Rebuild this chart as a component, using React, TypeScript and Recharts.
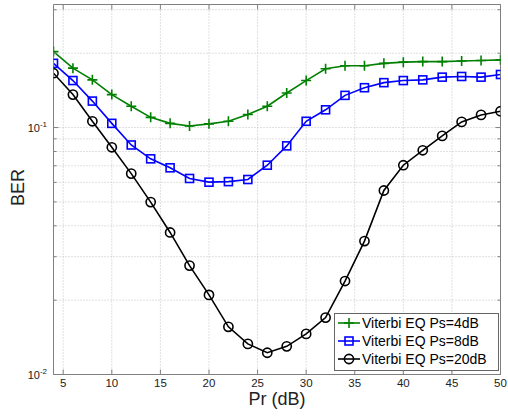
import React from 'react';
import { LineChart, Line, XAxis, YAxis, ReferenceLine, Legend } from 'recharts';

const prDb = [4, 6, 8, 10, 12, 14, 16, 18, 20, 22, 24, 26, 28, 30, 32, 34, 36, 38, 40, 42, 44, 46, 48, 50];
const berPs4 = [0.203, 0.174, 0.156, 0.136, 0.122, 0.110, 0.104, 0.1015, 0.1035, 0.106, 0.113, 0.122, 0.138, 0.155, 0.173, 0.178, 0.178, 0.182, 0.184, 0.185, 0.185, 0.186, 0.187, 0.188];
const berPs8 = [0.182, 0.155, 0.128, 0.104, 0.085, 0.0747, 0.0687, 0.0622, 0.0601, 0.0604, 0.0616, 0.0704, 0.0843, 0.106, 0.118, 0.135, 0.145, 0.152, 0.155, 0.156, 0.160, 0.161, 0.160, 0.164];
const berPs20 = [0.166, 0.136, 0.106, 0.0832, 0.0651, 0.0499, 0.0376, 0.0276, 0.0210, 0.0156, 0.0133, 0.01225, 0.0130, 0.0146, 0.0170, 0.0239, 0.0347, 0.0556, 0.0704, 0.0809, 0.0925, 0.1054, 0.1125, 0.1164];
const seriesNames = ['Viterbi EQ Ps=4dB', 'Viterbi EQ Ps=8dB', 'Viterbi EQ Ps=20dB'];
const xTicks = [5, 10, 15, 20, 25, 30, 35, 40, 45, 50];
const yTicks = [0.01, 0.02, 0.03, 0.04, 0.05, 0.06, 0.07, 0.08, 0.09, 0.1, 0.2, 0.3];
const xDomain = [4, 50];
const yDomain = [0.01, 0.315];

const data = prDb.map((pr, i) => ({ pr, s4: berPs4[i], s8: berPs8[i], s20: berPs20[i] }));

const FONT = '"Liberation Sans", Arial, Helvetica, sans-serif';
const AXIS_COLOR = '#808080';
const GRID_COLOR = '#c0c0c0';
const TEXT_COLOR = '#222';
const GREEN = '#008000';
const BLUE = '#0000ff';
const BLACK = '#000000';
const LW = 1.6;

const isMajor = (v: number) => Math.abs(Math.log10(v) - Math.round(Math.log10(v))) < 1e-6;

const PlusMark = ({ cx, cy, color }: any) => (
  <g>
    <line x1={cx - 5} y1={cy} x2={cx + 5} y2={cy} stroke={color} strokeWidth={LW} />
    <line x1={cx} y1={cy - 5} x2={cx} y2={cy + 5} stroke={color} strokeWidth={LW} />
  </g>
);
const SquareMark = ({ cx, cy, color }: any) => (
  <rect x={cx - 4} y={cy - 4} width={8} height={8} fill="none" stroke={color} strokeWidth={LW} />
);
const CircleMark = ({ cx, cy, color }: any) => (
  <circle cx={cx} cy={cy} r={4.6} fill="none" stroke={color} strokeWidth={LW} />
);

const markers = [PlusMark, SquareMark, CircleMark];
const colors = [GREEN, BLUE, BLACK];

const BottomTick = (props: any) => {
  const { x, y, payload } = props;
  return (
    <g>
      <line x1={x} y1={y} x2={x} y2={y - 5} stroke={AXIS_COLOR} strokeWidth={1} />
      <text x={x} y={y + 12.5} textAnchor="middle" fontSize={11.5} fontFamily={FONT} fill={TEXT_COLOR}>
        {payload.value}
      </text>
    </g>
  );
};
const TopTick = (props: any) => {
  const { x, y } = props;
  return <line x1={x} y1={y} x2={x} y2={y + 5} stroke={AXIS_COLOR} strokeWidth={1} />;
};
const LeftTick = (props: any) => {
  const { x, y, payload } = props;
  const v = payload.value;
  const major = isMajor(v);
  const len = major ? 5 : 3;
  return (
    <g>
      <line x1={x} y1={y} x2={x + len} y2={y} stroke={AXIS_COLOR} strokeWidth={1} />
      {major && (
        <text x={x - 6.5} y={y + 4.5} textAnchor="end" fontSize={11} fontFamily={FONT} fill={TEXT_COLOR}>
          <tspan>10</tspan>
          <tspan dy={-5} fontSize={8}>{String(Math.round(Math.log10(v)))}</tspan>
        </text>
      )}
    </g>
  );
};
const RightTick = (props: any) => {
  const { x, y, payload } = props;
  const len = isMajor(payload.value) ? 5 : 3;
  return <line x1={x} y1={y} x2={x - len} y2={y} stroke={AXIS_COLOR} strokeWidth={1} />;
};

const YLabel = (props: any) => {
  const vb = props.viewBox;
  const cx = vb.x + vb.width - 30;
  const cy = vb.y + vb.height / 2 - 2;
  return (
    <text x={cx} y={cy} transform={`rotate(-90, ${cx}, ${cy})`} textAnchor="middle" fontSize={18} fontFamily={FONT} fill={TEXT_COLOR}>
      BER
    </text>
  );
};
const XLabel = (props: any) => {
  const vb = props.viewBox;
  return (
    <text x={vb.x + vb.width / 2} y={vb.y + 30} textAnchor="middle" fontSize={18} fontFamily={FONT} fill={TEXT_COLOR}>
      Pr (dB)
    </text>
  );
};

const LegendBox = () => (
  <div
    style={{
      width: 165,
      height: 58,
      boxSizing: 'border-box',
      border: '1px solid #666',
      background: '#fff',
      fontFamily: FONT,
      fontSize: 14,
      color: '#000',
      paddingTop: 0,
    }}
  >
    {seriesNames.map((name, i) => {
      const Mark = markers[i];
      return (
        <div key={name} style={{ display: 'flex', alignItems: 'center', height: 18.4, lineHeight: '18.4px', whiteSpace: 'nowrap' }}>
          <svg width={27} height={14} style={{ display: 'block', flex: 'none' }}>
            <line x1={3} y1={7} x2={25} y2={7} stroke={colors[i]} strokeWidth={LW} />
            <Mark cx={14} cy={7} color={colors[i]} />
          </svg>
          <span>{name}</span>
        </div>
      );
    })}
  </div>
);

export default function App() {
  return (
    <div style={{ position: 'absolute', left: 0, top: 0, width: 508, height: 416, background: '#fff' }}>
      <LineChart width={508} height={416} data={data} margin={{ top: 3.5, left: 52.5, right: 6.5, bottom: 40.5 }}>
        {xTicks.map((t) => (
          <ReferenceLine key={`gx${t}`} x={t} stroke={GRID_COLOR} strokeDasharray="1 2" strokeWidth={1} />
        ))}
        {yTicks.map((t) => (
          <ReferenceLine key={`gy${t}`} y={t} stroke={GRID_COLOR} strokeDasharray="1 2" strokeWidth={1} />
        ))}
        <XAxis
          dataKey="pr"
          type="number"
          domain={xDomain}
          ticks={xTicks}
          interval={0}
          height={1}
          tickSize={0}
          tickMargin={0}
          tickLine={false}
          axisLine={{ stroke: AXIS_COLOR, strokeWidth: 1 }}
          tick={<BottomTick />}
          allowDataOverflow
          label={<XLabel />}
        />
        <XAxis
          xAxisId="top"
          orientation="top"
          dataKey="pr"
          type="number"
          domain={xDomain}
          ticks={xTicks}
          interval={0}
          height={1}
          tickSize={0}
          tickMargin={0}
          tickLine={false}
          axisLine={{ stroke: AXIS_COLOR, strokeWidth: 1 }}
          tick={<TopTick />}
          allowDataOverflow
        />
        <YAxis
          scale="log"
          type="number"
          domain={yDomain}
          ticks={yTicks}
          interval={0}
          width={1}
          tickSize={0}
          tickMargin={0}
          tickLine={false}
          axisLine={{ stroke: AXIS_COLOR, strokeWidth: 1 }}
          tick={<LeftTick />}
          allowDataOverflow
          label={<YLabel />}
        />
        <YAxis
          yAxisId="right"
          orientation="right"
          scale="log"
          type="number"
          domain={yDomain}
          ticks={yTicks}
          interval={0}
          width={1}
          tickSize={0}
          tickMargin={0}
          tickLine={false}
          axisLine={{ stroke: AXIS_COLOR, strokeWidth: 1 }}
          tick={<RightTick />}
          allowDataOverflow
        />
        <Line dataKey="s4" name={seriesNames[0]} stroke={GREEN} strokeWidth={LW} isAnimationActive={false}
          dot={(p: any) => <PlusMark key={`a${p.index}`} cx={p.cx} cy={p.cy} color={GREEN} />} />
        <Line dataKey="s8" name={seriesNames[1]} stroke={BLUE} strokeWidth={LW} isAnimationActive={false}
          dot={(p: any) => <SquareMark key={`b${p.index}`} cx={p.cx} cy={p.cy} color={BLUE} />} />
        <Line dataKey="s20" name={seriesNames[2]} stroke={BLACK} strokeWidth={LW} isAnimationActive={false}
          dot={(p: any) => <CircleMark key={`c${p.index}`} cx={p.cx} cy={p.cy} color={BLACK} />} />
        <Legend
          layout="vertical"
          align="center"
          verticalAlign="middle"
          content={<LegendBox />}
          wrapperStyle={{ position: 'absolute', left: 334, top: 312.5, width: 165, height: 58 }}
        />
      </LineChart>
    </div>
  );
}
